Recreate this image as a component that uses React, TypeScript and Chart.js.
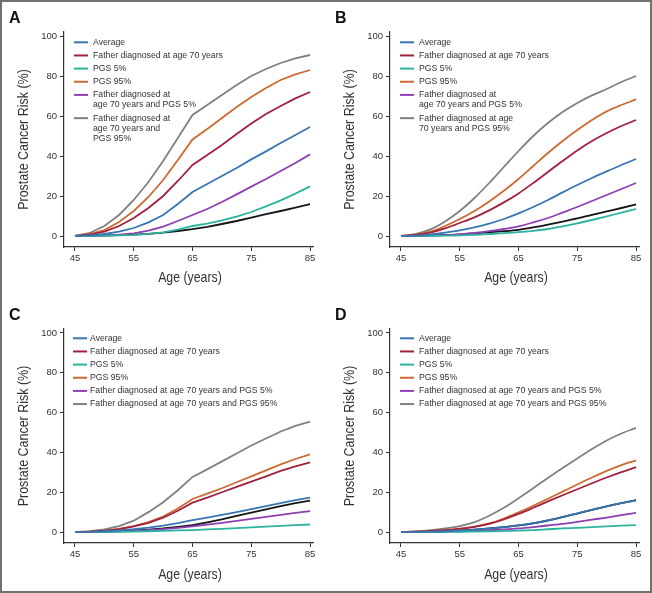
import React, { useEffect, useRef } from "react";
import { Chart, registerables } from "chart.js";

Chart.register(...registerables);

// ---------- data ----------
const ages = [45, 47.5, 50, 52.5, 55, 57.5, 60, 62.5, 65, 67.5, 70, 72.5, 75, 77.5, 80, 82.5, 85];
const xTicks = [45, 55, 65, 75, 85];
const yTicks = [0, 20, 40, 60, 80, 100];

const seriesNames = [
  "Average",
  "Father diagnosed at age 70 years",
  "PGS 5%",
  "PGS 95%",
  "Father diagnosed at age 70 years and PGS 5%",
  "Father diagnosed at age 70 years and PGS 95%",
  "Unlabelled reference",
];
const seriesColors = ["#3676b2", "#a3213d", "#2bb3a0", "#cd6a30", "#8e3fb3", "#808080", "#151515"];

// Panel A
const aAverage = [0, 0.3, 1, 2.2, 4, 6.8, 10.5, 16, 22, 26, 30, 34, 38.3, 42.3, 46.5, 50.5, 54.5];
const aFather70 = [0, 0.7, 2.2, 5, 9, 14, 20, 27.5, 35.5, 40.5, 45.5, 51, 56.3, 61, 65, 68.8, 72];
const aPgs5 = [0, 0.05, 0.15, 0.3, 0.6, 1.1, 1.8, 3.2, 5, 6.2, 7.8, 9.7, 12, 14.8, 17.8, 21.2, 24.8];
const aPgs95 = [0, 1, 3, 7, 12.5, 19.5, 28, 38, 48.3, 53.5, 59, 64.5, 69.5, 74, 78, 80.8, 83];
const aFatherPgs5 = [0, 0.1, 0.3, 0.7, 1.3, 2.7, 4.7, 7.5, 10.5, 13.5, 17, 20.8, 24.7, 28.5, 32.5, 36.5, 40.8];
const aFatherPgs95 = [0, 1.5, 5, 10.5, 18, 27, 37.5, 49, 60.5, 65.5, 70.5, 75.5, 80, 83.5, 86.5, 88.8, 90.5];
const aBlack = [0, 0.1, 0.2, 0.4, 0.7, 1.1, 1.7, 2.5, 3.4, 4.6, 6, 7.5, 9.2, 10.9, 12.5, 14.2, 15.9];

// Panel B
const bAverage = [0, 0.2, 0.8, 1.7, 2.8, 4.3, 6.2, 8.5, 11.3, 14.5, 18, 21.8, 25.5, 29, 32.3, 35.5, 38.5];
const bFather70 = [0, 0.5, 1.7, 3.8, 6.5, 9.3, 12.8, 16.8, 21.3, 26.5, 32, 37.5, 42.8, 47.5, 51.5, 55, 58];
const bPgs5 = [0, 0.02, 0.05, 0.15, 0.3, 0.6, 1, 1.4, 1.9, 2.6, 3.5, 4.8, 6.3, 8, 9.8, 11.7, 13.5];
const bPgs95 = [0, 0.7, 2.2, 5, 8.5, 12.5, 17.3, 22.6, 28.5, 35, 41.5, 47.5, 53, 58, 62.3, 65.5, 68.3];
const bFatherPgs5 = [0, 0.05, 0.15, 0.4, 0.8, 1.5, 2.4, 3.5, 4.8, 6.8, 9, 11.7, 14.5, 17.5, 20.5, 23.5, 26.5];
const bFatherPgs95 = [0, 1, 3.3, 7.3, 12.5, 19, 26.5, 34.5, 42.5, 50, 56.5, 62, 66.5, 70.3, 73.5, 77, 80];
const bBlack = [0, 0.1, 0.2, 0.5, 0.8, 1.3, 1.9, 2.4, 3.1, 4.3, 5.7, 7.2, 8.8, 10.6, 12.3, 14, 15.8];

// Panel C
const cAverage = [0, 0.1, 0.4, 0.8, 1.4, 2.2, 3.2, 4.5, 6, 7.3, 8.6, 10, 11.5, 13, 14.5, 16, 17.3];
const cFather70 = [0, 0.2, 0.7, 1.5, 2.8, 4.6, 7.2, 10.7, 14.8, 17.3, 20, 22.7, 25.3, 28, 30.7, 33, 35];
const cPgs5 = [0, 0.02, 0.06, 0.15, 0.25, 0.4, 0.6, 0.8, 1, 1.3, 1.6, 2, 2.3, 2.7, 3.1, 3.5, 3.8];
const cPgs95 = [0, 0.2, 0.7, 1.6, 3, 5, 7.8, 11.8, 16.6, 19.3, 22, 25, 28, 31, 34, 36.7, 39];
const cFatherPgs5 = [0, 0.05, 0.15, 0.35, 0.6, 1, 1.5, 2.1, 2.8, 3.7, 4.6, 5.6, 6.6, 7.6, 8.6, 9.6, 10.5];
const cFatherPgs95 = [0, 0.4, 1.3, 3, 5.7, 10, 15, 21, 27.7, 31.5, 35.5, 39.5, 43.5, 47, 50.5, 53.3, 55.5];
const cBlack = [0, 0.1, 0.2, 0.5, 0.8, 1.2, 1.8, 2.6, 3.5, 4.9, 6.4, 8.1, 9.8, 11.4, 13, 14.5, 15.8];

// Panel D
const dAverage = [0, 0.05, 0.2, 0.4, 0.8, 1.2, 1.8, 2.5, 3.4, 4.5, 5.9, 7.6, 9.4, 11.2, 12.9, 14.5, 15.9];
const dFather70 = [0, 0.2, 0.5, 0.9, 1.6, 2.6, 4.1, 6.3, 9.1, 12.2, 15.4, 18.5, 21.5, 24.5, 27.4, 30.1, 32.6];
const dPgs5 = [0, 0.01, 0.03, 0.08, 0.15, 0.25, 0.35, 0.5, 0.7, 1, 1.4, 1.8, 2.1, 2.5, 2.9, 3.2, 3.5];
const dPgs95 = [0, 0.2, 0.5, 1, 1.7, 2.7, 4.3, 6.8, 9.9, 13.2, 16.7, 20.3, 23.9, 27.4, 30.7, 33.6, 36];
const dFatherPgs5 = [0, 0.02, 0.08, 0.2, 0.4, 0.6, 0.9, 1.3, 1.8, 2.5, 3.3, 4.1, 5.1, 6.2, 7.3, 8.5, 9.6];
const dFatherPgs95 = [0, 0.3, 0.9, 1.8, 3, 5, 8.2, 12.2, 17, 22, 27.2, 32.2, 37, 41.7, 46, 49.5, 52.3];
const dBlack = [0, 0.05, 0.2, 0.4, 0.75, 1.2, 1.8, 2.5, 3.3, 4.4, 5.8, 7.5, 9.3, 11.1, 12.9, 14.5, 16];

// legend texts (line-broken as in the figure)
const legendWrapped = [
  ["Average"],
  ["Father diagnosed at age 70 years"],
  ["PGS 5%"],
  ["PGS 95%"],
  ["Father diagnosed at", "age 70 years and PGS 5%"],
  ["Father diagnosed at", "age 70 years and", "PGS 95%"],
];
const legendWrappedB = [
  ["Average"],
  ["Father diagnosed at age 70 years"],
  ["PGS 5%"],
  ["PGS 95%"],
  ["Father diagnosed at", "age 70 years and PGS 5%"],
  ["Father diagnosed at age", "70 years and PGS 95%"],
];
const legendSingle = seriesNames.slice(0, 6).map((s) => [s]);

const xTitle = "Age (years)";
const yTitle = "Prostate Cancer Risk (%)";

const TICK_FONT = "'Liberation Sans', Arial, sans-serif";

type PanelProps = {
  letter: string;
  series: number[][];
  legend: string[][];
  smooth: boolean;
  left: number;
  top: number;
  height: number;
  legendTop: number;
  markerX: number;
  textX: number;
};

function Panel(props: PanelProps) {
  const ref = useRef<HTMLCanvasElement | null>(null);
  useEffect(() => {
    const canvas = ref.current;
    if (!canvas) return;
    const { letter, series, legend, smooth, legendTop, markerX, textX } = props;

    const decor = {
      id: "decor",
      afterDraw(chart: any) {
        const ctx = chart.ctx as CanvasRenderingContext2D;
        const area = chart.chartArea;
        ctx.save();
        // panel letter
        ctx.fillStyle = "#111";
        ctx.font = "bold 16px 'Liberation Sans', Arial, sans-serif";
        ctx.textBaseline = "alphabetic";
        ctx.textAlign = "left";
        ctx.fillText(letter, 9, 23);

        // axis titles (condensed look via horizontal scaling)
        ctx.fillStyle = "#333";
        ctx.font = "14.5px 'Liberation Sans', Arial, sans-serif";
        ctx.textAlign = "center";
        ctx.textBaseline = "middle";
        const cx = (area.left + area.right) / 2 + 1.5;
        ctx.save();
        ctx.translate(cx, 278);
        ctx.scale(0.85, 1);
        ctx.fillText(xTitle, 0, 0);
        ctx.restore();
        const cy = (area.top + area.bottom) / 2;
        ctx.save();
        ctx.translate(23.5, cy);
        ctx.rotate(-Math.PI / 2);
        ctx.scale(0.86, 1);
        ctx.fillText(yTitle, 0, 0);
        ctx.restore();

        // legend
        ctx.font = "8.7px 'Liberation Sans', Arial, sans-serif";
        ctx.textAlign = "left";
        ctx.textBaseline = "middle";
        ctx.fillStyle = "#333";
        let y = legendTop;
        legend.forEach((lines, i) => {
          ctx.strokeStyle = seriesColors[i];
          ctx.lineWidth = 2;
          ctx.beginPath();
          ctx.moveTo(markerX, y);
          ctx.lineTo(markerX + 14, y);
          ctx.stroke();
          lines.forEach((t, j) => ctx.fillText(t, textX, y + j * 10.1));
          y += (lines.length - 1) * 10.1 + 13.15;
        });
        ctx.restore();
      },
    };

    const datasets = series.map((vals, i) => ({
      label: seriesNames[i],
      data: ages.map((a, k) => ({ x: a, y: vals[k] })),
      borderColor: seriesColors[i],
      backgroundColor: seriesColors[i],
      borderWidth: 1.8,
      pointRadius: 0,
      fill: false,
      tension: 0,
      cubicInterpolationMode: smooth ? "monotone" : "default",
    }));

    const gridOpts = {
      display: true,
      drawOnChartArea: false,
      drawTicks: true,
      tickLength: 4,
      color: "#333",
      lineWidth: 1,
    };

    const chart = new Chart(canvas, {
      type: "line",
      data: { datasets } as any,
      plugins: [decor],
      options: {
        animation: false,
        responsive: false,
        maintainAspectRatio: false,
        devicePixelRatio: 1,
        layout: { padding: { left: 0, right: 13, top: 32, bottom: 0 } },
        plugins: { legend: { display: false }, tooltip: { enabled: false }, title: { display: false } },
        scales: {
          x: {
            type: "linear",
            min: 43.13,
            max: 85.5,
            afterBuildTicks: (s: any) => {
              s.ticks = xTicks.map((v) => ({ value: v }));
            },
            afterFit: (s: any) => {
              s.height = 50;
            },
            grid: gridOpts,
            border: { display: true, color: "#333", width: 1.2 },
            ticks: {
              autoSkip: false,
              maxRotation: 0,
              padding: 2,
              color: "#333",
              font: { family: TICK_FONT, size: 9.5 },
              callback: (v: any) => String(v),
            },
            title: { display: false },
          },
          y: {
            type: "linear",
            min: -5.5,
            max: 102,
            afterBuildTicks: (s: any) => {
              s.ticks = yTicks.map((v) => ({ value: v }));
            },
            afterFit: (s: any) => {
              s.width = 64;
            },
            grid: gridOpts,
            border: { display: true, color: "#333", width: 1.2 },
            ticks: {
              autoSkip: false,
              padding: 3,
              color: "#333",
              font: { family: TICK_FONT, size: 9.5 },
              callback: (v: any) => String(v),
            },
            title: { display: false },
          },
        },
      } as any,
    });
    return () => chart.destroy();
  }, []);

  return (
    <canvas
      ref={ref}
      width={326}
      height={props.height}
      style={{ position: "absolute", left: props.left, top: props.top, width: 326, height: props.height }}
    />
  );
}

export default function App() {
  useEffect(() => {
    document.body.style.margin = "0";
  }, []);
  return (
    <div style={{ position: "relative", width: 652, height: 593, background: "#fff", overflow: "hidden" }}>
      <Panel
        letter="A"
        series={[aAverage, aFather70, aPgs5, aPgs95, aFatherPgs5, aFatherPgs95, aBlack]}
        legend={legendWrapped}
        smooth={false}
        left={0}
        top={0}
        height={297}
        legendTop={42.3}
        markerX={74}
        textX={93}
      />
      <Panel
        letter="B"
        series={[bAverage, bFather70, bPgs5, bPgs95, bFatherPgs5, bFatherPgs95, bBlack]}
        legend={legendWrappedB}
        smooth={true}
        left={326}
        top={0}
        height={297}
        legendTop={42.3}
        markerX={74}
        textX={93}
      />
      <Panel
        letter="C"
        series={[cAverage, cFather70, cPgs5, cPgs95, cFatherPgs5, cFatherPgs95, cBlack]}
        legend={legendSingle}
        smooth={false}
        left={0}
        top={297}
        height={296}
        legendTop={41.3}
        markerX={73}
        textX={90}
      />
      <Panel
        letter="D"
        series={[dAverage, dFather70, dPgs5, dPgs95, dFatherPgs5, dFatherPgs95, dBlack]}
        legend={legendSingle}
        smooth={true}
        left={326}
        top={297}
        height={296}
        legendTop={41.3}
        markerX={74}
        textX={93}
      />
      <div
        style={{
          position: "absolute",
          left: 0,
          top: 0,
          width: 652,
          height: 593,
          boxSizing: "border-box",
          border: "2px solid #707070",
          pointerEvents: "none",
        }}
      />
    </div>
  );
}
